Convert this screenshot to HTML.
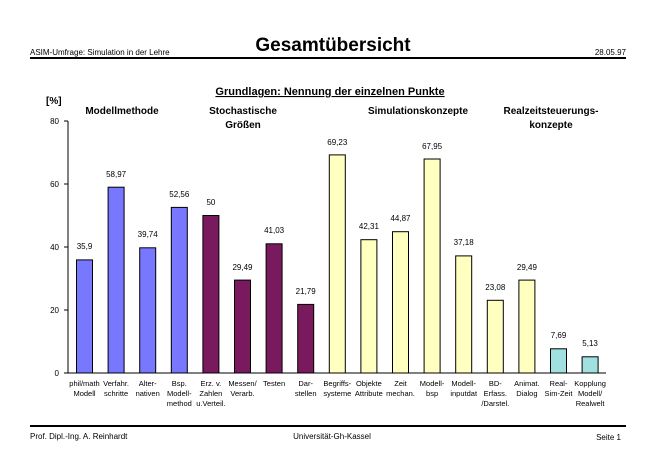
<!DOCTYPE html><html><head><style>body{margin:0;background:#fff}svg{display:block}text{font-family:"Liberation Sans",Arial,sans-serif}</style></head><body>
<svg width="666" height="471" xmlns="http://www.w3.org/2000/svg">
<text x="30" y="55" font-size="8">ASIM-Umfrage: Simulation in der Lehre</text>
<text x="333" y="51" font-size="19" font-weight="bold" text-anchor="middle">Gesamtübersicht</text>
<text x="626" y="55" font-size="8" text-anchor="end">28.05.97</text>
<rect x="30" y="57" width="596" height="2" fill="#000"/>
<text x="330" y="95" font-size="11" font-weight="bold" text-anchor="middle" text-decoration="underline">Grundlagen: Nennung der einzelnen Punkte</text>
<text x="46" y="104" font-size="10" font-weight="bold">[%]</text>
<g font-size="10" font-weight="bold" text-anchor="middle">
<text x="122" y="114">Modellmethode</text>
<text x="243" y="114">Stochastische</text><text x="243" y="128">Größen</text>
<text x="418" y="114">Simulationskonzepte</text>
<text x="551" y="114">Realzeitsteuerungs-</text><text x="551" y="128">konzepte</text>
</g>
<g font-size="8" text-anchor="end">
<text x="59" y="124">80</text><text x="59" y="187">60</text><text x="59" y="250">40</text><text x="59" y="313">20</text><text x="59" y="376">0</text>
</g>
<g stroke="#000" stroke-width="1">
<line x1="68" y1="121" x2="68" y2="373"/>
<line x1="64" y1="121" x2="68" y2="121"/><line x1="64" y1="184" x2="68" y2="184"/><line x1="64" y1="247" x2="68" y2="247"/><line x1="64" y1="310" x2="68" y2="310"/>
<line x1="64" y1="373" x2="606" y2="373"/>
</g>
<g stroke="#000" stroke-width="1">
<rect x="76.5" y="259.9" width="16" height="113.1" fill="#7878ff"/>
<rect x="108.1" y="187.2" width="16" height="185.8" fill="#7878ff"/>
<rect x="139.7" y="247.8" width="16" height="125.2" fill="#7878ff"/>
<rect x="171.3" y="207.4" width="16" height="165.6" fill="#7878ff"/>
<rect x="202.9" y="215.5" width="16" height="157.5" fill="#7a1a5e"/>
<rect x="234.5" y="280.1" width="16" height="92.9" fill="#7a1a5e"/>
<rect x="266.1" y="243.8" width="16" height="129.2" fill="#7a1a5e"/>
<rect x="297.7" y="304.4" width="16" height="68.6" fill="#7a1a5e"/>
<rect x="329.3" y="154.9" width="16" height="218.1" fill="#ffffc0"/>
<rect x="360.9" y="239.7" width="16" height="133.3" fill="#ffffc0"/>
<rect x="392.5" y="231.7" width="16" height="141.3" fill="#ffffc0"/>
<rect x="424.1" y="159.0" width="16" height="214.0" fill="#ffffc0"/>
<rect x="455.7" y="255.9" width="16" height="117.1" fill="#ffffc0"/>
<rect x="487.3" y="300.3" width="16" height="72.7" fill="#ffffc0"/>
<rect x="518.9" y="280.1" width="16" height="92.9" fill="#ffffc0"/>
<rect x="550.5" y="348.8" width="16" height="24.2" fill="#a0e0e0"/>
<rect x="582.1" y="356.8" width="16" height="16.2" fill="#a0e0e0"/>
</g>
<g font-size="8" text-anchor="middle">
<text x="84.5" y="249">35,9</text>
<text x="116.1" y="177">58,97</text>
<text x="147.7" y="237">39,74</text>
<text x="179.3" y="197">52,56</text>
<text x="210.9" y="205">50</text>
<text x="242.5" y="270">29,49</text>
<text x="274.1" y="233">41,03</text>
<text x="305.7" y="294">21,79</text>
<text x="337.3" y="145">69,23</text>
<text x="368.9" y="229">42,31</text>
<text x="400.5" y="221">44,87</text>
<text x="432.1" y="149">67,95</text>
<text x="463.7" y="245">37,18</text>
<text x="495.3" y="290">23,08</text>
<text x="526.9" y="270">29,49</text>
<text x="558.5" y="338">7,69</text>
<text x="590.1" y="346">5,13</text>
</g>
<g font-size="7.5" text-anchor="middle">
<text x="84.5" y="386">phil/math</text><text x="84.5" y="396">Modell</text>
<text x="116.1" y="386">Verfahr.</text><text x="116.1" y="396">schritte</text>
<text x="147.7" y="386">Alter-</text><text x="147.7" y="396">nativen</text>
<text x="179.3" y="386">Bsp.</text><text x="179.3" y="396">Modell-</text><text x="179.3" y="406">method</text>
<text x="210.9" y="386">Erz. v.</text><text x="210.9" y="396">Zahlen</text><text x="210.9" y="406">u.Verteil.</text>
<text x="242.5" y="386">Messen/</text><text x="242.5" y="396">Verarb.</text>
<text x="274.1" y="386">Testen</text>
<text x="305.7" y="386">Dar-</text><text x="305.7" y="396">stellen</text>
<text x="337.3" y="386">Begriffs-</text><text x="337.3" y="396">systeme</text>
<text x="368.9" y="386">Objekte</text><text x="368.9" y="396">Attribute</text>
<text x="400.5" y="386">Zeit</text><text x="400.5" y="396">mechan.</text>
<text x="432.1" y="386">Modell-</text><text x="432.1" y="396">bsp</text>
<text x="463.7" y="386">Modell-</text><text x="463.7" y="396">inputdat</text>
<text x="495.3" y="386">BD-</text><text x="495.3" y="396">Erfass.</text><text x="495.3" y="406">/Darstel.</text>
<text x="526.9" y="386">Animat.</text><text x="526.9" y="396">Dialog</text>
<text x="558.5" y="386">Real-</text><text x="558.5" y="396">Sim-Zeit</text>
<text x="590.1" y="386">Kopplung</text><text x="590.1" y="396">Modell/</text><text x="590.1" y="406">Realwelt</text>
</g>
<rect x="30" y="425" width="596" height="2" fill="#000"/>
<text x="30" y="439" font-size="8">Prof. Dipl.-Ing. A. Reinhardt</text>
<text x="332" y="439" font-size="8" text-anchor="middle">Universität-Gh-Kassel</text>
<text x="621" y="440" font-size="8" text-anchor="end">Seite 1</text>
</svg></body></html>
